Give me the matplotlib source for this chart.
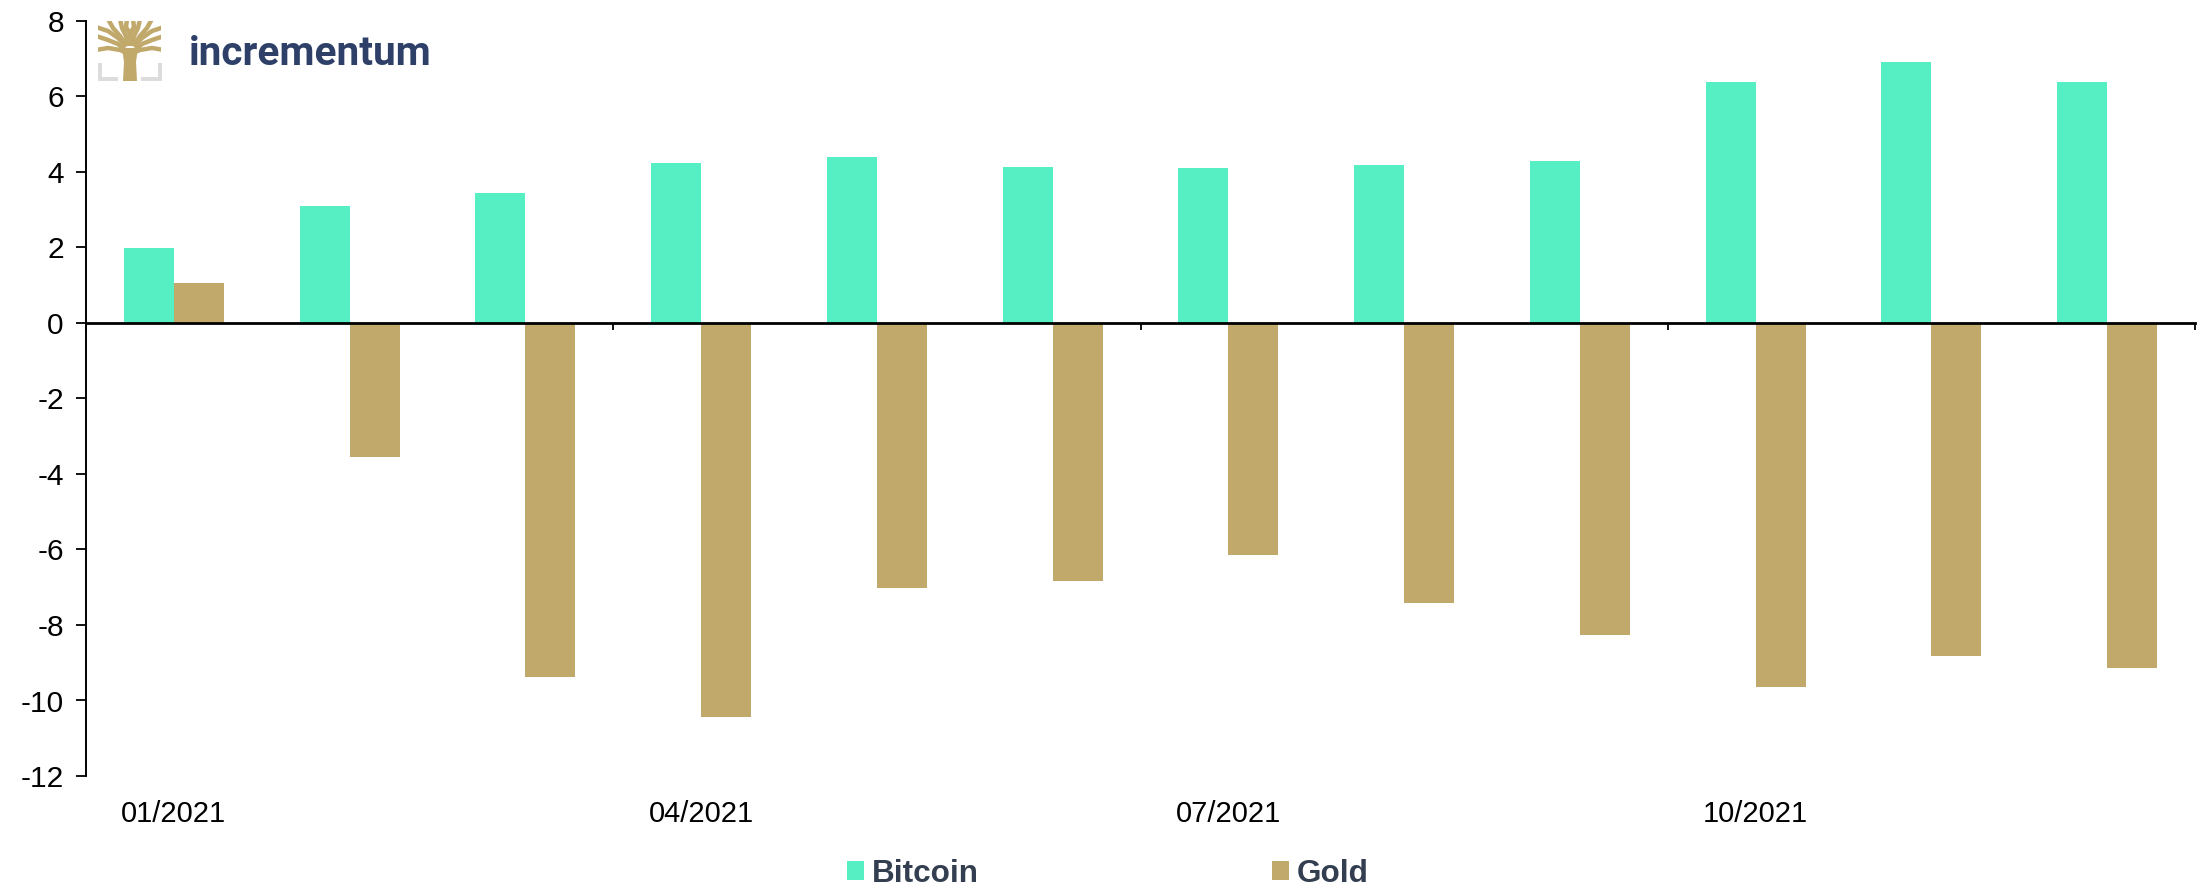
import numpy as np
import matplotlib.pyplot as plt
from matplotlib.patches import Rectangle

months = ["01/2021", "02/2021", "03/2021", "04/2021", "05/2021", "06/2021",
          "07/2021", "08/2021", "09/2021", "10/2021", "11/2021", "12/2021"]
bitcoin = [1.98, 3.1, 3.45, 4.24, 4.4, 4.14, 4.11, 4.19, 4.3, 6.38, 6.92, 6.38]
gold = [1.05, -3.55, -9.38, -10.45, -7.02, -6.83, -6.14, -7.42, -8.26, -9.65, -8.82, -9.15]
y_ticks = [8, 6, 4, 2, 0, -2, -4, -6, -8, -10, -12]

W, H = 2206, 888
plt.rcParams['font.family'] = ['Liberation Sans', 'DejaVu Sans']
plt.rcParams['axes.unicode_minus'] = False

fig = plt.figure(figsize=(W / 100, H / 100), dpi=100)
ax = fig.add_axes([86 / W, 1 - 776 / H, (2195 - 86) / W, (776 - 21) / H])

x = np.arange(len(months))
bw = 0.285
b1 = ax.bar(x - bw / 2, bitcoin, bw, color="#56EFC4", label="Bitcoin")
b2 = ax.bar(x + bw / 2, gold, bw, color="#C1A96C", label="Gold")

ax.set_xlim(-0.5, len(months) - 0.5)
ax.set_ylim(-12, 8)
ax.set_yticks(y_ticks)
ax.set_yticklabels([str(v) for v in y_ticks])
ax.tick_params(axis='y', length=7, width=1.3, labelsize=21.5, pad=9)

# ticks sit on the category edges, labels under every third month
ax.set_xticks(np.arange(-0.5, len(months), 3))
ax.set_xticklabels([])
ax.tick_params(axis='x', length=5, width=1.3, direction='out')
for i in range(0, len(months), 3):
    ax.annotate(months[i], (x[i], -12), xytext=(0, -17), textcoords='offset points',
                ha='center', va='top', fontsize=21, color='black')

ax.spines['top'].set_visible(False)
ax.spines['right'].set_visible(False)
ax.spines['bottom'].set_position(('data', 0))
ax.spines['bottom'].set_linewidth(2)
ax.spines['left'].set_linewidth(1.4)

fig.legend(handles=[b1, b2], loc='center', bbox_to_anchor=(1108 / W, 1 - 874 / H),
           ncol=2, frameon=False, borderpad=0, borderaxespad=0,
           handlelength=0.54, handleheight=0.54, handletextpad=0.25, columnspacing=9.3,
           prop={'size': 22.7, 'weight': 'bold'}, labelcolor="#333F50")

# logo, drawn in pixel coordinates of the figure
logo = fig.add_axes([0, 0, 1, 1], facecolor='none')
logo.set_xlim(0, W)
logo.set_ylim(H, 0)
logo.axis('off')
tan = "#C1A96C"
grey = "#DCDCDC"
logo.plot([99.5, 99.5, 118], [63, 79.5, 79.5], color=grey, lw=2.8, solid_joinstyle='miter', solid_capstyle='butt')
logo.plot([160, 160, 141], [63, 79.5, 79.5], color=grey, lw=2.8, solid_joinstyle='miter', solid_capstyle='butt')
logo.fill([123, 124, 122, 138, 136, 137], [81, 62, 48, 48, 62, 81], color=tan, lw=0)
clip = Rectangle((98, 21), 63, 40, transform=logo.transData)
branches = [
    ([127, 120, 108, 96], [53, 50, 48, 50]),
    ([133, 140, 152, 164], [53, 50, 48, 50]),
    ([125, 118, 108, 96], [50, 44, 40, 36]),
    ([135, 142, 152, 164], [50, 44, 40, 36]),
    ([126, 118, 108, 96], [46, 38, 31, 27]),
    ([134, 142, 152, 164], [46, 38, 31, 27]),
    ([127, 120, 113, 108], [46, 36, 28, 19]),
    ([133, 140, 147, 152], [46, 36, 28, 19]),
    ([128, 126, 122, 120], [46, 36, 28, 19]),
    ([132, 134, 138, 140], [46, 36, 28, 19]),
    ([130, 130, 126, 127], [46, 34, 27, 19]),
    ([130, 130, 134, 133], [46, 34, 27, 19]),
]
for bx, by in branches:
    line, = logo.plot(bx, by, color=tan, lw=3.2, solid_capstyle='butt')
    line.set_clip_path(clip)
logo.text(189, 65, "incrementum", color="#2E4068", fontsize=29.2, fontweight='bold',
          family=['Roboto', 'DejaVu Sans'], ha='left', va='baseline')

fig.savefig("out.png", dpi=100)
